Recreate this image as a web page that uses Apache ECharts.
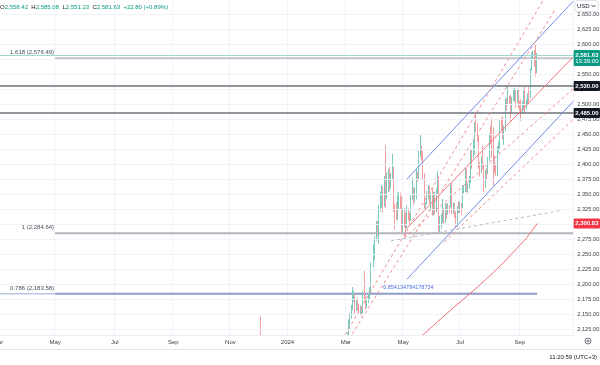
<!DOCTYPE html>
<html><head><meta charset="utf-8">
<script src="https://cdn.jsdelivr.net/npm/echarts@6/dist/echarts.min.js"></script>
<style>html,body{margin:0;padding:0;background:#fff}#c{width:600px;height:365px}</style>
</head><body><div id="c"></div>
<script>
// ---------- axis data ----------
const firstDate = '2023-03-01';
const barCount = 434; // trading-day slots shown on the time scale (incl. empty future slots)
const priceTicks = [2125,2150,2175,2200,2225,2250,2275,2300,2325,2350,2375,2400,2425,2450,2475,2500,2525,2550,2575,2600,2625,2650];
const monthNames = ['','Jan','Feb','Mar','Apr','May','Jun','Jul','Aug','Sep','Oct','Nov','Dec'];

// ---------- candles (XAUUSD daily) ----------
const candleDates = ['2023-12-04',
'2024-03-01','2024-03-04','2024-03-05','2024-03-06','2024-03-07','2024-03-08','2024-03-11','2024-03-12','2024-03-13','2024-03-14','2024-03-15','2024-03-18','2024-03-19','2024-03-20','2024-03-21','2024-03-22','2024-03-25','2024-03-26','2024-03-27','2024-03-28',
'2024-04-01','2024-04-02','2024-04-03','2024-04-04','2024-04-05','2024-04-08','2024-04-09','2024-04-10','2024-04-11','2024-04-12','2024-04-15','2024-04-16','2024-04-17','2024-04-18','2024-04-19','2024-04-22','2024-04-23','2024-04-24','2024-04-25','2024-04-26','2024-04-29','2024-04-30',
'2024-05-01','2024-05-02','2024-05-03','2024-05-06','2024-05-07','2024-05-08','2024-05-09','2024-05-10','2024-05-13','2024-05-14','2024-05-15','2024-05-16','2024-05-17','2024-05-20','2024-05-21','2024-05-22','2024-05-23','2024-05-24','2024-05-27','2024-05-28','2024-05-29','2024-05-30','2024-05-31',
'2024-06-03','2024-06-04','2024-06-05','2024-06-06','2024-06-07','2024-06-10','2024-06-11','2024-06-12','2024-06-13','2024-06-14','2024-06-17','2024-06-18','2024-06-19','2024-06-20','2024-06-21','2024-06-24','2024-06-25','2024-06-26','2024-06-27','2024-06-28',
'2024-07-01','2024-07-02','2024-07-03','2024-07-04','2024-07-05','2024-07-08','2024-07-09','2024-07-10','2024-07-11','2024-07-12','2024-07-15','2024-07-16','2024-07-17','2024-07-18','2024-07-19','2024-07-22','2024-07-23','2024-07-24','2024-07-25','2024-07-26','2024-07-29','2024-07-30','2024-07-31',
'2024-08-01','2024-08-02','2024-08-05','2024-08-06','2024-08-07','2024-08-08','2024-08-09','2024-08-12','2024-08-13','2024-08-14','2024-08-15','2024-08-16','2024-08-19','2024-08-20','2024-08-21','2024-08-22','2024-08-23','2024-08-26','2024-08-27','2024-08-28','2024-08-29','2024-08-30',
'2024-09-02','2024-09-03','2024-09-04','2024-09-05','2024-09-06','2024-09-09','2024-09-10','2024-09-11','2024-09-12','2024-09-13','2024-09-16','2024-09-17','2024-09-18','2024-09-19'];
const opens = [2072,
2044,2083,2114,2128,2148,2160,2179,2182,2158,2175,2162,2155,2160,2157,2186,2181,2165,2172,2179,2194,
2233,2251,2280,2300,2291,2330,2339,2352,2333,2373,2344,2383,2383,2361,2379,2392,2327,2322,2316,2332,2337,2335,
2286,2320,2303,2301,2323,2314,2309,2346,2360,2336,2358,2385,2376,2415,2425,2421,2379,2329,2334,2351,2361,2338,2343,
2327,2350,2327,2355,2375,2294,2311,2316,2324,2303,2333,2319,2329,2328,2360,2322,2334,2319,2298,2327,
2326,2332,2330,2356,2357,2392,2358,2364,2371,2414,2411,2422,2469,2459,2445,2400,2396,2409,2397,2364,2387,2384,2410,
2447,2446,2442,2409,2390,2382,2427,2431,2472,2465,2447,2456,2507,2504,2513,2512,2484,2512,2518,2524,2504,2520,
2503,2500,2493,2495,2516,2497,2506,2516,2512,2558,2578,2582,2569,2558.42];
const highs = [2146,
2088,2119,2141,2152,2165,2195,2189,2184,2175,2176,2167,2164,2163,2188,2222,2181,2176,2186,2195,2236,
2266,2280,2305,2305,2331,2354,2365,2362,2380,2431,2386,2392,2395,2385,2417,2395,2333,2336,2352,2353,2352,2346,
2326,2326,2319,2331,2326,2319,2348,2378,2361,2361,2392,2387,2422,2450,2431,2422,2385,2336,2355,2364,2364,2352,2360,
2354,2353,2359,2388,2379,2313,2317,2342,2327,2335,2334,2335,2331,2365,2369,2336,2335,2321,2330,2338,
2338,2335,2365,2363,2393,2393,2368,2380,2424,2425,2440,2470,2483,2468,2448,2403,2412,2431,2401,2390,2393,2412,2451,
2463,2477,2461,2414,2401,2430,2437,2475,2477,2480,2464,2509,2510,2531,2514,2515,2512,2526,2527,2525,2524,2523,
2505,2508,2505,2523,2529,2508,2518,2528,2560,2586,2589,2590,2600,2585.08];
const lows = [2014,
2039,2077,2109,2125,2142,2156,2170,2150,2155,2155,2152,2150,2146,2150,2172,2157,2160,2168,2173,2186,
2228,2240,2272,2280,2267,2321,2327,2319,2329,2326,2342,2353,2355,2359,2373,2320,2291,2306,2307,2325,2325,2285,
2285,2294,2277,2292,2306,2297,2305,2341,2332,2336,2341,2370,2374,2412,2406,2374,2326,2325,2333,2341,2334,2323,2314,
2314,2316,2320,2350,2287,2286,2292,2302,2300,2302,2308,2315,2318,2328,2316,2317,2310,2293,2295,2318,
2318,2315,2327,2351,2353,2353,2352,2359,2368,2392,2410,2416,2453,2437,2392,2379,2384,2394,2353,2360,2375,2383,2405,
2433,2410,2364,2385,2380,2380,2418,2425,2455,2441,2432,2455,2489,2498,2499,2471,2484,2505,2504,2494,2502,2493,
2489,2472,2484,2490,2485,2491,2499,2500,2510,2556,2576,2562,2546,2551.23];
const closes = [2029,
2083,2114,2128,2148,2159,2179,2182,2158,2175,2162,2155,2160,2157,2186,2181,2165,2172,2179,2194,2233,
2251,2280,2300,2291,2330,2339,2352,2333,2373,2344,2383,2384,2361,2379,2392,2327,2322,2316,2332,2337,2335,2286,
2320,2303,2301,2323,2314,2309,2346,2360,2336,2358,2385,2376,2415,2425,2421,2379,2329,2334,2351,2361,2338,2343,2327,
2350,2327,2355,2375,2294,2311,2316,2324,2303,2333,2319,2329,2328,2360,2322,2334,2319,2298,2327,2326,
2332,2330,2356,2357,2392,2358,2364,2371,2414,2411,2422,2469,2459,2445,2400,2396,2409,2397,2364,2387,2384,2410,2447,
2446,2442,2409,2390,2382,2427,2431,2472,2465,2447,2456,2507,2504,2513,2512,2484,2512,2518,2524,2504,2520,2503,
2500,2493,2495,2516,2497,2506,2516,2512,2558,2578,2582,2569,2559,2581.63];

// ---------- moving average (red) ----------
const maDates  = ['2024-05-13','2024-05-21','2024-06-03','2024-06-17','2024-07-01','2024-07-15','2024-07-29','2024-08-12','2024-08-26','2024-09-09','2024-09-19'];
const maValues = [2098,2113,2131,2151,2170,2189,2209,2230,2253,2277,2300.83];

// ---------- drawings ----------
const hLevels = [2530, 2485];
const fibLabels = ['1.618 (2,576.49)', '1 (2,284.64)', '0.786 (2,183.58)'];
const fibPrices = [2576.49, 2284.64, 2183.58];
const fibStart = '2023-05-01';
const fibEnds = ['2024-10-28', '2024-10-28', '2024-09-19'];
const channelStart = ['2024-05-06','2024-05-06','2024-05-06'];
const channelStartPrice = [2375, 2293, 2208];   // upper blue, red median, lower blue
const channelEnd = ['2024-10-28','2024-10-28','2024-10-28'];
const channelEndPrice = [2671, 2578, 2504];
const fanStart = ['2024-02-14','2024-03-01','2024-05-02','2024-06-13'];
const fanStartPrice = [2073, 2100, 2277, 2270];
const fanEnd = ['2024-10-09','2024-10-09','2024-10-28','2024-10-28'];
const fanEndPrice = [2708, 2659, 2525, 2474];
const grayDash = [['2024-04-18', 2272], ['2024-10-14', 2322]];
const fibText = '0.854134784178734';
const fibTextAt = ['2024-04-10', 2195];

const lastPrice = 2581.63, maLast = 2300.83;
const legendVals = ['2,558.42','2,585.08','2,551.23','2,581.63','+22.80 (+0.89%)'];

// ---------- build ----------
const dates = [];
(function(){ let t = Date.UTC(2023,2,1); while (dates.length < barCount) { const d = new Date(t); const wd = d.getUTCDay(); if (wd !== 0 && wd !== 6) dates.push(d.toISOString().slice(0,10)); t += 86400000; } })();
const isMonthStart = (i) => { const m = +dates[i].slice(5,7); return (i === 0 || dates[i-1].slice(5,7) !== dates[i].slice(5,7)) && (m % 2 === 1); };
const fmt = v => v.toLocaleString('en-US',{minimumFractionDigits:2,maximumFractionDigits:2});
const FONT = 'Liberation Sans';
const candleData = candleDates.map((d,i)=>[d, opens[i], closes[i], lows[i], highs[i]]);

const chart = echarts.init(document.getElementById('c'), null, {renderer:'canvas'});
const gridRight = 26.3;
const series = [];
series.push({ type:'line', data:[], silent:true, z:1, markLine:{ silent:true, symbol:'none', animation:false, label:{show:false},
  lineStyle:{color:'#f0f3fa', width:1, type:'solid'}, emphasis:{disabled:true}, data: priceTicks.map(v=>({yAxis:v})) } });
series.push({ type:'line', data:[], silent:true, z:3, markLine:{ silent:true, symbol:'none', animation:false, label:{show:false},
  lineStyle:{color:'#6f727c', width:1.6, type:'solid'}, emphasis:{disabled:true}, data: hLevels.map(v=>({yAxis:v})) } });
series.push({ type:'line', data:[], silent:true, z:3, markLine:{ silent:true, symbol:'none', animation:false, label:{show:false},
  lineStyle:{color:'#9fd9d0', width:1, type:'solid'}, emphasis:{disabled:true}, data: [{yAxis:lastPrice}] } });
const fibColors = ['#a9acb5','#b2b5be','#8e9bc6'];
fibPrices.forEach((p,i)=>{
  series.push({ type:'line', silent:true, symbol:'none', z:3, animation:false,
    lineStyle:{color:fibColors[i], width: i===0?1.2:2}, data:[[fibStart,p],[fibEnds[i],p]] });
});
series.push({ type:'line', silent:true, symbol:'none', z:3, animation:false,
  lineStyle:{color:'#9aa8d8', width:1}, data:[[dates[0],fibPrices[2]],[fibStart,fibPrices[2]]] });
series.push({ type:'candlestick', z:4, barWidth:1, animation:false, silent:true, clip:true,
  dimensions:['date','open','close','lowest','highest'], encode:{x:'date', y:['open','close','lowest','highest']},
  itemStyle:{color:'#7ccbbf', color0:'#f29da0', borderColor:'#7ccbbf', borderColor0:'#f29da0', borderWidth:1},
  data: candleData });
series.push({ type:'line', silent:true, symbol:'none', z:5, animation:false, smooth:0.3,
  lineStyle:{color:'#f06b70', width:1}, data: maDates.map((d,i)=>[d, maValues[i]]) });
const chColors = ['#6f8ce6','#f0787d','#6f8ce6'];
channelStart.forEach((d,i)=>{
  series.push({ type:'line', silent:true, symbol:'none', z:6, animation:false,
    lineStyle:{color:chColors[i], width:1}, data:[[d,channelStartPrice[i]],[channelEnd[i],channelEndPrice[i]]] });
});
fanStart.forEach((d,i)=>{
  series.push({ type:'line', silent:true, symbol:'none', z:6, animation:false,
    lineStyle:{color:'#f0888c', width:1, type:[3,3]}, data:[[d,fanStartPrice[i]],[fanEnd[i],fanEndPrice[i]]] });
});
series.push({ type:'line', silent:true, symbol:'none', z:6, animation:false,
  lineStyle:{color:'#b8bbc3', width:1, type:[3,3]}, data:grayDash });

const xLabel = { interval:(i)=>isMonthStart(i), fontSize:6, color:'#3c3f47', fontFamily:FONT, margin:4,
  formatter:(v)=>{ const m=+v.slice(5,7); return m===1 ? v.slice(0,4) : monthNames[m]; } };
chart.setOption({
  animation:false,
  backgroundColor:'#ffffff',
  grid:{ left:-2.66, right:gridRight, top:0, bottom:30, containLabel:false, outerBoundsMode:'none' },
  xAxis:[
    { type:'category', data:dates, boundaryGap:true, z:0,
      axisLine:{show:false}, axisTick:{show:false}, axisLabel:{show:false},
      splitLine:{ show:true, interval:(i)=>isMonthStart(i), lineStyle:{color:'#f0f3fa', width:1} } },
    { type:'category', data:dates, boundaryGap:true, position:'bottom', z:300,
      axisLine:{show:true, lineStyle:{color:'#eceef3'}}, axisTick:{show:false}, axisLabel:xLabel, splitLine:{show:false} }
  ],
  yAxis:{ type:'value', position:'right', min:2115, max:2673.33, scale:true, z:300,
    axisLine:{show:false}, axisTick:{show:false, customValues:priceTicks}, splitLine:{show:false},
    axisLabel:{ customValues:priceTicks, fontSize:5.7, color:'#3c3f47', fontFamily:FONT, margin:3.5, formatter:(v)=>fmt(v) } },
  series
});

// ---------- overlay text & badges (positioned through the axes) ----------
function build(){
  const py = p => chart.convertToPixel({yAxisIndex:0}, p);
  const pt = (d,p) => chart.convertToPixel({xAxisIndex:0, yAxisIndex:0}, [d,p]);
  const axisX = 600 - gridRight;
  const bottomY = py(2115);
  const g = [];
  // mask overflow below the plot
  g.push({ type:'rect', z:200, silent:true, shape:{x:0, y:bottomY+0.5, width:axisX, height:365-bottomY}, style:{fill:'#ffffff'} });
  g.push({ type:'text', left:0, top:1, z:250, style:{ text:
    '{l|O}{v|'+legendVals[0]+'} {l|H}{v|'+legendVals[1]+'} {l|L}{v|'+legendVals[2]+'} {l|C}{v|'+legendVals[3]+'} {v|'+legendVals[4]+'}',
    rich:{ l:{fill:'#131722', fontSize:6, fontFamily:FONT}, v:{fill:'#089981', fontSize:6, fontFamily:FONT} } } });
  fibPrices.forEach((p,i)=>{
    const [x,y] = pt(fibStart, p);
    g.push({ type:'text', x:x-1, y:y-3, z:250, style:{ text:fibLabels[i], fill:'#4a4d56', fontSize:6, fontFamily:FONT, align:'right', verticalAlign:'bottom' } });
  });
  const [tx,ty] = pt(fibTextAt[0], fibTextAt[1]);
  g.push({ type:'text', x:tx, y:ty, z:250, style:{ text:fibText, fill:'#4d6fdc', fontSize:5.5, fontFamily:FONT, align:'left', verticalAlign:'middle' } });
  const badge = (p, bg, txt, sub) => {
    const y = py(p);
    const h = sub ? 16 : 10;
    const top = y-5;
    g.push({ type:'rect', z:310, shape:{x:axisX, y:top, width:600-axisX, height:h, r:1}, style:{fill:bg} });
    g.push({ type:'text', z:311, x:axisX+(600-axisX)/2, y:y, style:{ text:txt, fill:'#ffffff', fontSize:6, fontWeight:'bold', fontFamily:FONT, align:'center', verticalAlign:'middle' } });
    if (sub) g.push({ type:'text', z:311, x:axisX+(600-axisX)/2, y:y+6.5, style:{ text:sub, fill:'#ffffff', fontSize:6, fontFamily:FONT, align:'center', verticalAlign:'middle' } });
  };
  badge(lastPrice, '#089981', fmt(lastPrice), '13:39:00');
  hLevels.forEach(p => badge(p, '#131722', fmt(p)));
  badge(maLast, '#f23645', fmt(maLast));
  g.push({ type:'rect', z:310, shape:{x:575, y:0.5, width:23, height:11, r:2}, style:{fill:'#fff', stroke:'#e0e3eb', lineWidth:1} });
  g.push({ type:'text', z:311, x:577, y:6, style:{ text:'USD', fill:'#131722', fontSize:6, fontFamily:FONT, verticalAlign:'middle' } });
  g.push({ type:'polyline', z:311, shape:{points:[[591.5,5],[593.5,7],[595.5,5]]}, style:{stroke:'#131722', lineWidth:0.8, fill:null} });
  g.push({ type:'line', z:310, shape:{x1:0, y1:349.5, x2:600, y2:349.5}, style:{stroke:'#e0e3eb', lineWidth:1} });
  g.push({ type:'text', z:310, x:597, y:357, style:{ text:'11:20:59 (UTC+3)', fill:'#131722', fontSize:6, fontFamily:FONT, align:'right', verticalAlign:'middle' } });
  g.push({ type:'circle', z:310, shape:{cx:588, cy:341, r:3}, style:{fill:'none', stroke:'#50535e', lineWidth:0.8} });
  g.push({ type:'circle', z:310, shape:{cx:588, cy:341, r:1}, style:{fill:'none', stroke:'#50535e', lineWidth:0.8} });
  chart.setOption({ graphic: g });
}
build();
</script></body></html>
